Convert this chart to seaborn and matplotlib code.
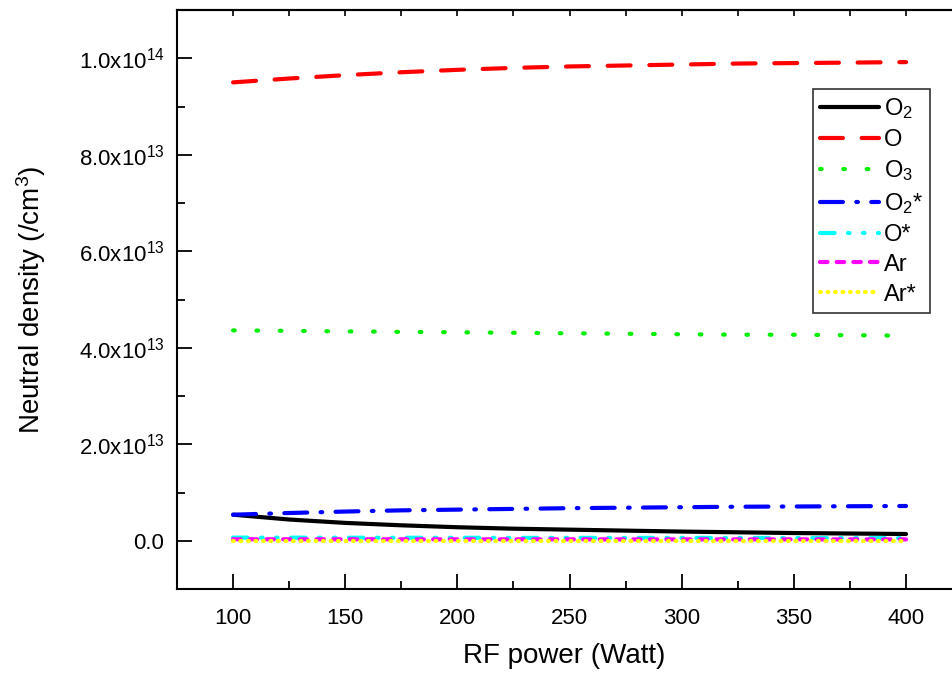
import numpy as np
import pandas as pd
import matplotlib
matplotlib.use("Agg")
import matplotlib.pyplot as plt
import seaborn as sns
from matplotlib.ticker import MultipleLocator, FixedLocator, FixedFormatter

# ---- data ----
power = [100, 125, 150, 175, 200, 225, 250, 275, 300, 325, 350, 375, 400]
o2 = [5.4e12, 4.4e12, 3.7e12, 3.2e12, 2.8e12, 2.5e12, 2.3e12, 2.1e12, 1.9e12, 1.75e12, 1.6e12, 1.5e12, 1.4e12]
o = [9.50e13, 9.58e13, 9.65e13, 9.71e13, 9.76e13, 9.80e13, 9.83e13, 9.85e13, 9.87e13, 9.89e13, 9.90e13, 9.91e13, 9.92e13]
o3 = [4.36e13, 4.35e13, 4.34e13, 4.33e13, 4.32e13, 4.31e13, 4.30e13, 4.29e13, 4.28e13, 4.27e13, 4.27e13, 4.26e13, 4.25e13]
o2s = [5.4e12, 5.75e12, 6.05e12, 6.3e12, 6.45e12, 6.6e12, 6.75e12, 6.85e12, 6.95e12, 7.05e12, 7.1e12, 7.15e12, 7.2e12]
os_ = [6.5e11, 6.4e11, 6.3e11, 6.2e11, 6.1e11, 6.0e11, 6.0e11, 5.9e11, 5.9e11, 5.8e11, 5.8e11, 5.8e11, 5.7e11]
ar = [3.0e11, 3.0e11, 3.0e11, 2.9e11, 2.9e11, 2.9e11, 2.9e11, 2.8e11, 2.8e11, 2.8e11, 2.8e11, 2.8e11, 2.8e11]
ars = [5e10, 5e10, 5e10, 5e10, 5e10, 5e10, 5e10, 5e10, 5e10, 5e10, 5e10, 5e10, 5e10]

series_labels = [r"O$_2$", "O", r"O$_3$", r"O$_2$*", "O*", "Ar", "Ar*"]
series_values = [o2, o, o3, o2s, os_, ar, ars]
colors = ["black", "#ff0000", "#00ee00", "#0000ff", "#00ffff", "#ff00ff", "#ffff00"]
styles = ["-", (0, (5.5, 4.5)), (0, (0.4, 5.2)), (0, (5.5, 3.2, 0.4, 3.2)),
          (0, (3.5, 3.2, 0.4, 3.2, 0.4, 3.2)), (0, (1.8, 2.2)), (0, (0.2, 1.6))]

ytick_vals = [0, 2e13, 4e13, 6e13, 8e13, 1e14]
ytick_labels = ["0.0", r"2.0x10$^{13}$", r"4.0x10$^{13}$", r"6.0x10$^{13}$",
                r"8.0x10$^{13}$", r"1.0x10$^{14}$"]
xtick_vals = [100, 150, 200, 250, 300, 350, 400]

sns.set_style("ticks")
plt.rcParams["font.family"] = ["Liberation Sans", "DejaVu Sans"]
plt.rcParams["mathtext.fontset"] = "custom"
plt.rcParams["mathtext.rm"] = "Liberation Sans"
plt.rcParams["mathtext.it"] = "Liberation Sans:italic"
plt.rcParams["mathtext.default"] = "regular"
plt.rcParams["text.color"] = "black"
plt.rcParams["axes.labelcolor"] = "black"

fig = plt.figure(figsize=(9.52, 6.82), dpi=100)
ax = fig.add_axes([177 / 952, (682 - 589) / 682, (952 - 177) / 952, 579 / 682])

for lab, vals, c, ls in zip(series_labels, series_values, colors, styles):
    df = pd.DataFrame({"power": power, "val": vals})
    sns.lineplot(data=df, x="power", y="val", ax=ax, color=c, linestyle=ls,
                 linewidth=3.0, label=lab, dash_capstyle="round",
                 solid_capstyle="round")

ax.set_xlim(75, 420.5)
ax.set_ylim(-1e13, 1.1e14)

ax.xaxis.set_major_locator(FixedLocator(xtick_vals))
ax.xaxis.set_minor_locator(MultipleLocator(25))
ax.yaxis.set_major_locator(FixedLocator(ytick_vals))
ax.yaxis.set_major_formatter(FixedFormatter(ytick_labels))
ax.yaxis.set_minor_locator(MultipleLocator(1e13))

ax.tick_params(axis="both", which="major", direction="in", length=11, width=1.3,
               labelsize=16, colors="black", labelcolor="black")
ax.tick_params(axis="both", which="minor", direction="in", length=6, width=1.3,
               colors="black")
ax.tick_params(axis="x", which="major", pad=14)
ax.tick_params(axis="y", which="major", pad=9)
ax.tick_params(axis="x", which="both", top=False)

for side in ["left", "bottom", "top"]:
    ax.spines[side].set_linewidth(1.5)
    ax.spines[side].set_color("black")
ax.spines["right"].set_visible(False)

sec = ax.secondary_xaxis("top")
sec.xaxis.set_major_locator(MultipleLocator(25))
sec.tick_params(direction="in", length=4, width=1.2, labeltop=False, colors="black")
sec.spines["top"].set_linewidth(1.5)
sec.spines["top"].set_color("black")

ax.set_xlabel("RF power (Watt)", fontsize=20, labelpad=10)
ax.set_ylabel(r"Neutral density (/cm$^3$)", fontsize=20, labelpad=22)

leg = ax.legend(loc="upper right", bbox_to_anchor=(930 / 952, 1 - 89 / 682),
                bbox_transform=fig.transFigure, fontsize=17, frameon=True,
                fancybox=False, edgecolor="black", handlelength=2.5,
                handletextpad=0.2, borderpad=0.3, labelspacing=0.33,
                borderaxespad=0)
leg.get_frame().set_linewidth(1.2)

fig.savefig("out.png", dpi=100)
